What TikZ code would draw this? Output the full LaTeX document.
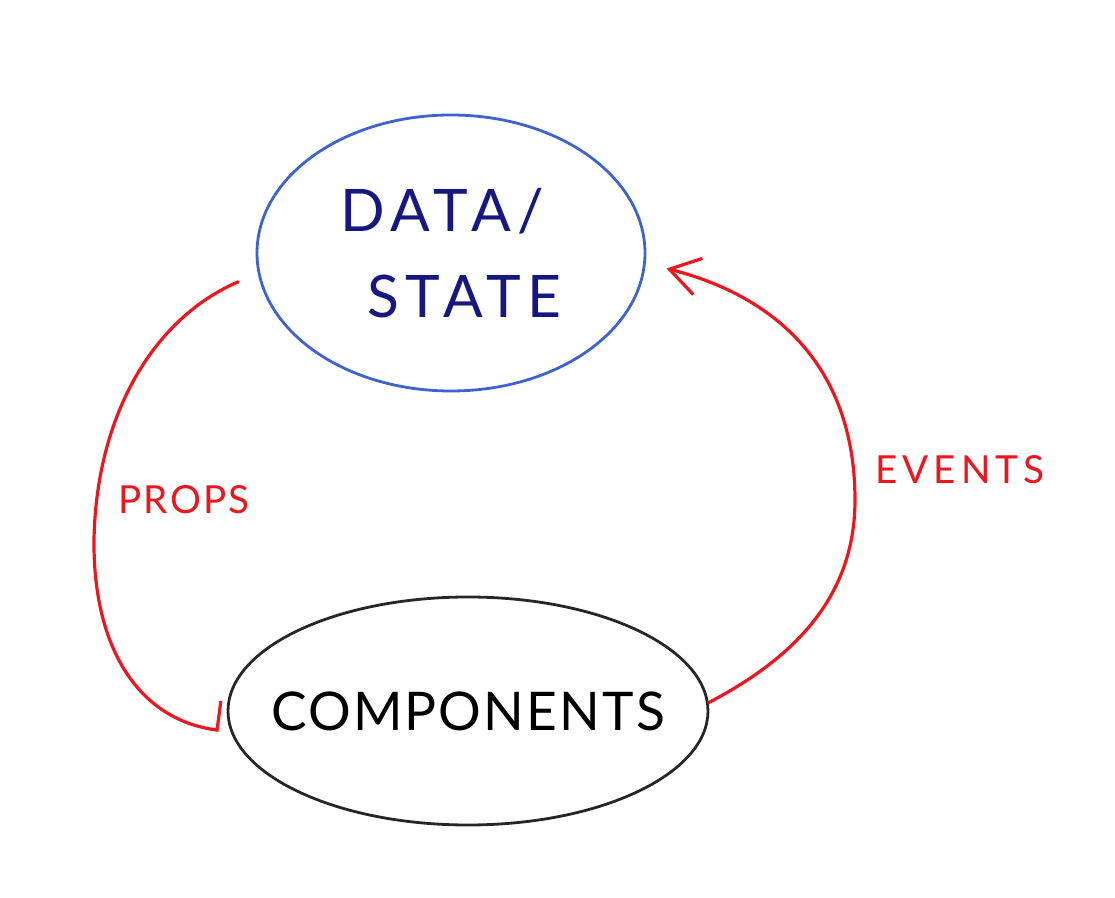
\documentclass[tikz,border=0pt]{standalone}
\usepackage{fontspec}
\setmainfont{Lato}
\usepackage{tikz}
\usetikzlibrary{shapes.geometric, arrows.meta}
\definecolor{penred}{RGB}{236,22,30}
\definecolor{penblue}{RGB}{62,98,206}
\definecolor{inkblue}{RGB}{22,24,128}
\definecolor{inkblack}{RGB}{38,38,38}

\begin{document}
\begin{tikzpicture}[
        x=0.75pt, y=-0.75pt,
        every node/.style={align=center},
        blob/.style={ellipse, draw, line width=2.1pt, inner sep=0pt},
        flow/.style={draw=penred, line width=2.4pt, line cap=round},
        lbl/.style={text=penred, font=\fontsize{29}{32}\selectfont\addfontfeatures{LetterSpace=#1}}
      ]
      \useasboundingbox (0,0) rectangle (1115,898);
      \node[blob, draw=penblue, text=inkblue, align=left,
            minimum width=291pt, minimum height=207pt,
            font=\fontsize{44}{64}\selectfont\addfontfeatures{LetterSpace=12}]
        (data) at (451,253) {DATA/\\\hspace{20pt}STATE};
      \node[blob, draw=inkblack, text=black, inner xsep=-22pt,
            minimum width=360pt, minimum height=171pt,
            font=\fontsize{40}{46}\selectfont\addfontfeatures{LetterSpace=4}]
        (comp) at (468,711) {COMPONENTS};
      \node[lbl=6] (props) at (184,500) {PROPS};
      \node[lbl=13] (events) at (960,470) {EVENTS};
      \draw[flow, shorten <=16pt, shorten >=9pt, -{Bar[left, width=44pt, line width=2.4pt]}]
        (data.186) .. controls (150,320) and (96,420) .. (94,540)
        .. controls (93,650) and (140,720) .. (comp.185);
      \draw[flow, shorten >=16pt, -{Straight Barb[length=22pt, width=28pt, line width=2.4pt]}]
        (comp.2) .. controls (790,660) and (855,600) .. (855,500)
        .. controls (855,380) and (790,300) .. (data.357);
\end{tikzpicture}
\end{document}
